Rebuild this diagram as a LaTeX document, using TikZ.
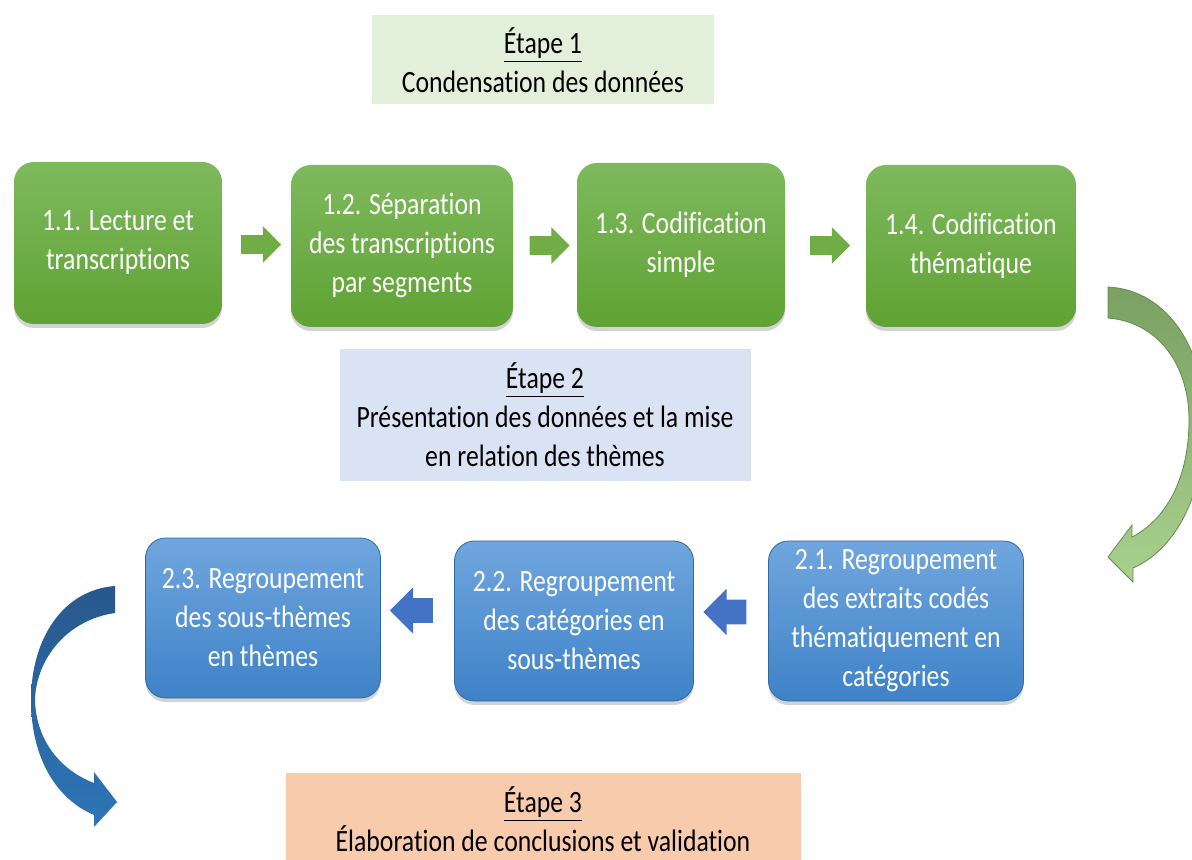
\documentclass[tikz,border=0pt]{standalone}
\usepackage{fontspec}
\setmainfont{Carlito}[FakeStretch=0.83, Ligatures=NoCommon]
\usetikzlibrary{shapes.arrows, shadows, calc, positioning}

\definecolor{headgreen}{RGB}{226,239,218}
\definecolor{headblue}{RGB}{218,227,243}
\definecolor{headorange}{RGB}{248,203,173}
\definecolor{gtop}{RGB}{126,185,93}
\definecolor{gbot}{RGB}{96,162,52}
\definecolor{btop}{RGB}{112,166,222}
\definecolor{bbot}{RGB}{62,130,200}
\definecolor{arrowgreen}{RGB}{112,173,71}
\definecolor{arrowblue}{RGB}{68,114,196}
\definecolor{curvegtop}{RGB}{122,160,98}
\definecolor{curvegbot}{RGB}{169,209,142}
\definecolor{curvebtop}{RGB}{40,88,140}
\definecolor{curvebbot}{RGB}{46,117,182}

\begin{document}
\begin{tikzpicture}[x=0.5pt, y=-0.5pt,
    every node/.style={font=\fontsize{15.5}{19.5}\selectfont},
    stage/.style={align=center, inner sep=2pt},
    greenbox/.style={rounded corners=10pt, top color=gtop, bottom color=gbot, text=white, align=center,
        minimum width=105pt, minimum height=81pt,
        drop shadow={opacity=0.35, shadow xshift=0pt, shadow yshift=-2pt}},
    bluebox/.style={rounded corners=10pt, draw=bbot!80!black, top color=btop, bottom color=bbot, text=white, align=center,
        minimum width=118pt, minimum height=80pt,
        drop shadow={opacity=0.35, shadow xshift=0pt, shadow yshift=-2pt}},
    garrow/.style={single arrow, fill=arrowgreen, minimum height=20pt, inner xsep=0pt, inner ysep=4.5pt,
        single arrow head extend=4.5pt},
    barrow/.style={single arrow, fill=arrowblue, shape border rotate=180, minimum height=21.5pt,
        inner xsep=0pt, inner ysep=6pt, single arrow head extend=5.5pt}
]
\useasboundingbox (0,0) rectangle (1192,860);

% Stage titles
\node[stage, fill=headgreen, minimum width=171pt, minimum height=44.5pt] (stage1) at (543,60)
    {\underline{Étape 1}\\Condensation des données};
\node[stage, fill=headblue, minimum width=205.5pt, minimum height=65.5pt] (stage2) at (545,415)
    {\underline{Étape 2}\\Présentation des données et la mise\\en relation des thèmes};
\node[stage, fill=headorange, minimum width=257.5pt, minimum height=46pt] (stage3) at (543,819)
    {\underline{Étape 3}\\Élaboration de conclusions et validation};

% Stage 1 steps
\node[greenbox, minimum width=104pt] (s11) at (118,243) {1.1. Lecture et\\transcriptions};
\node[greenbox, minimum width=111pt] (s12) at (402,246) {1.2. Séparation\\des transcriptions\\par segments};
\node[greenbox, minimum width=104pt, minimum height=82pt] (s13) at (681,245) {1.3. Codification\\simple};
\node[greenbox] (s14) at (971,246) {1.4. Codification\\thématique};

% Stage 2 steps
\node[bluebox, minimum width=117.5pt] (s23) at (263,618) {2.3. Regroupement\\des sous-thèmes\\en thèmes};
\node[bluebox, minimum width=119.5pt] (s22) at (574,621) {2.2. Regroupement\\des catégories en\\sous-thèmes};
\node[bluebox, minimum width=127.5pt] (s21) at (896,621) {2.1. Regroupement\\des extraits codés\\thématiquement en\\catégories};

% Straight arrows
\foreach \a/\b in {s11/s12, s12/s13, s13/s14} {
    \node[garrow] (ar-\a) at ($(\a.east)!0.5!(\b.west)$) {};
}
\foreach \a/\b in {s21/s22, s22/s23} {
    \node[barrow] (ar-\a) at ($(\a.west)!0.5!(\b.east)+(0,-9)$) {};
}

% Curved arrows
\shade[top color=curvegtop, bottom color=curvegbot, draw=curvegtop!85!black, line width=0.4pt]
    (1108,287) .. controls (1168,290) and (1206,350) .. (1205,425)
    .. controls (1204,495) and (1175,550) .. (1133,568)
    -- (1133,582) -- (1108,557) -- (1132,525) -- (1132,537)
    .. controls (1165,520) and (1189,480) .. (1189,420)
    .. controls (1189,365) and (1158,322) .. (1108,318) -- cycle;
\shade[top color=curvebtop, bottom color=curvebbot]
    (115,586) .. controls (62,590) and (31,640) .. (31,700)
    .. controls (31,760) and (58,800) .. (94,815)
    -- (94,827) -- (117,802) -- (94,772) -- (94,783)
    .. controls (60,770) and (36,740) .. (35,700)
    .. controls (36,660) and (66,620) .. (115,613) -- cycle;

\end{tikzpicture}
\end{document}
